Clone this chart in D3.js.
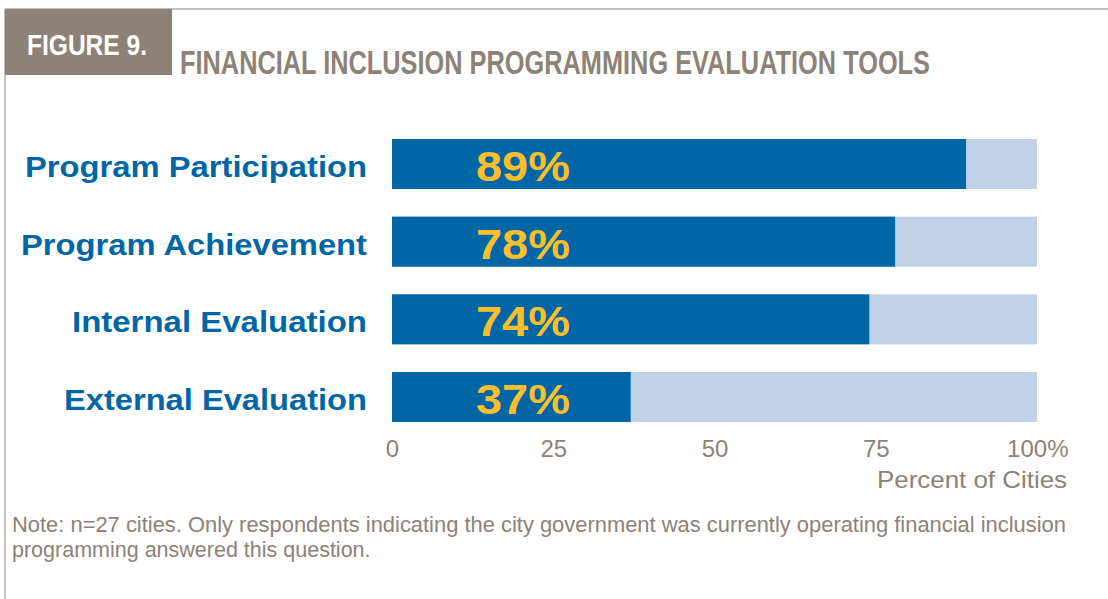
<!DOCTYPE html>
<html>
<head>
<meta charset="utf-8">
<script src="https://cdn.jsdelivr.net/npm/d3@7"></script>
<style>
  body { margin: 0; background: #fff; }
  svg { display: block; }
</style>
</head>
<body>
<svg id="chart" width="1108" height="599"></svg>
<script>
// chart data
var categories = ["Program Participation", "Program Achievement", "Internal Evaluation", "External Evaluation"];
var values = [89, 78, 74, 37];
var tick_values = [0, 25, 50, 75, 100];
var tick_labels = ["0", "25", "50", "75", "100%"];

var grey = "#8c8278",
    blue = "#0066a6",
    light = "#c0d0e6",
    yellow = "#fbbf2c";

// rough label widths to mimic the original typeface
var label_widths = [342, 346, 295, 303];

var svg = d3.select("#chart");

// frame lines
svg.append("line").attr("x1", 5).attr("x2", 1108).attr("y1", 9).attr("y2", 9)
   .attr("stroke", "#b5aea8").attr("stroke-width", 1.5);
svg.append("line").attr("x1", 5).attr("x2", 5).attr("y1", 9).attr("y2", 599)
   .attr("stroke", "#b5aea8").attr("stroke-width", 1.5);

// figure tab
svg.append("rect").attr("x", 5).attr("y", 9).attr("width", 167).attr("height", 66).attr("fill", grey);
svg.append("text").attr("x", 27).attr("y", 55)
   .attr("font-family", "Liberation Sans Narrow, Liberation Sans, Arial, sans-serif")
   .attr("font-weight", "bold").attr("font-size", 29).attr("fill", "#fff")
   .attr("textLength", 120).attr("lengthAdjust", "spacingAndGlyphs")
   .text("FIGURE 9.");

svg.append("text").attr("x", 180).attr("y", 74)
   .attr("font-family", "Liberation Sans Narrow, Liberation Sans, Arial, sans-serif")
   .attr("font-weight", "bold").attr("font-size", 34).attr("fill", grey)
   .attr("textLength", 750).attr("lengthAdjust", "spacingAndGlyphs")
   .text("FINANCIAL INCLUSION PROGRAMMING EVALUATION TOOLS");

// scales
var x = d3.scaleLinear().domain([0, 100]).range([392, 1037]);
var y = d3.scaleBand().domain(categories).range([139, 422]).paddingInner(0.356).paddingOuter(0);

var rows = svg.append("g").selectAll("g")
  .data(categories)
  .enter().append("g")
  .attr("transform", function(d) { return "translate(0," + y(d) + ")"; });

// background bar (100%)
rows.append("rect")
    .attr("x", x(0))
    .attr("width", x(100) - x(0))
    .attr("height", y.bandwidth())
    .attr("fill", light);

rows.append("rect")
    .attr("x", x(0))
    .attr("width", function(d, i) { return x(values[i]) - x(0); })
    .attr("height", y.bandwidth())
    .attr("fill", blue);

rows.append("text")
    .attr("x", 476)
    .attr("y", y.bandwidth() / 2 + 17)
    .attr("font-family", "Liberation Sans, Arial, sans-serif")
    .attr("font-weight", "bold")
    .attr("font-size", 42)
    .attr("fill", yellow)
    .attr("textLength", 94).attr("lengthAdjust", "spacingAndGlyphs")
    .text(function(d, i) { return values[i] + "%"; });

rows.append("text")
    .attr("x", function(d, i) { return 367 - label_widths[i]; })
    .attr("y", y.bandwidth() / 2 + 13)
    .attr("font-family", "Liberation Sans, Arial, sans-serif")
    .attr("font-weight", "bold")
    .attr("font-size", 29)
    .attr("fill", blue)
    .attr("textLength", function(d, i) { return label_widths[i]; })
    .attr("lengthAdjust", "spacingAndGlyphs")
    .text(function(d) { return d; });

// x axis
var axis = d3.axisBottom(x).tickValues(tick_values)
  .tickSize(0).tickPadding(0)
  .tickFormat(function(d, i) { return tick_labels[i]; });

var ax = svg.append("g").attr("transform", "translate(0,422)").call(axis);
ax.select(".domain").remove();
ax.selectAll("text")
  .attr("dy", 0).attr("y", 35)
  .attr("font-family", "Liberation Sans, Arial, sans-serif")
  .attr("font-size", 24)
  .attr("fill", grey)
  .attr("text-anchor", function(d) { return d == 100 ? "end" : "middle"; })
  .attr("x", function(d) { return d == 100 ? 31 : 0; });

svg.append("text").attr("x", 1067).attr("y", 488)
   .attr("text-anchor", "end")
   .attr("font-family", "Liberation Sans, Arial, sans-serif")
   .attr("font-size", 24).attr("fill", grey)
   .attr("textLength", 190).attr("lengthAdjust", "spacingAndGlyphs")
   .text("Percent of Cities");

// note
var note = svg.append("text")
   .attr("font-family", "Liberation Sans, Arial, sans-serif")
   .attr("font-size", 21.5).attr("fill", grey);
note.append("tspan").attr("x", 12).attr("y", 532)
   .attr("textLength", 1054).attr("lengthAdjust", "spacingAndGlyphs")
   .text("Note: n=27 cities. Only respondents indicating the city government was currently operating financial inclusion");
note.append("tspan").attr("x", 12).attr("y", 557)
   .text("programming answered this question.");
</script>
</body>
</html>
